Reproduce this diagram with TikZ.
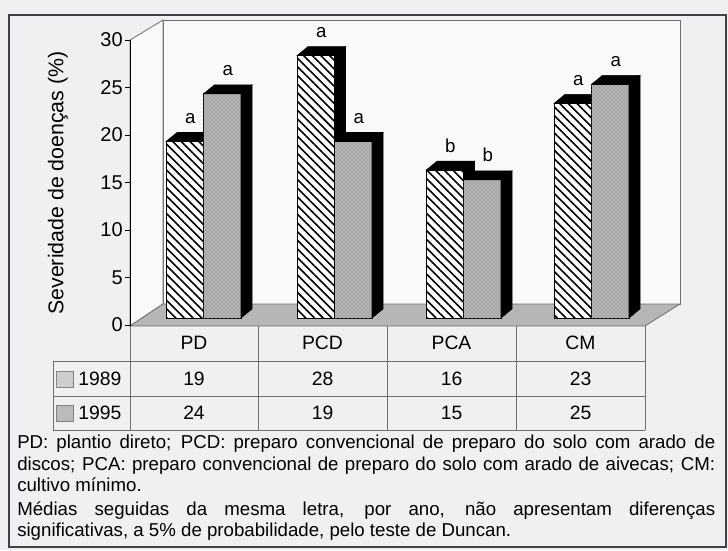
\documentclass[tikz,border=0pt]{standalone}
\usepackage{fontspec}
\setmainfont{Liberation Sans}
\usetikzlibrary{patterns,patterns.meta}

\definecolor{pagebg}{RGB}{241,239,241}
\definecolor{wallbg}{RGB}{249,249,249}
\definecolor{floorgray}{RGB}{182,182,184}
\definecolor{dotgray}{RGB}{166,166,166}
\definecolor{framecol}{RGB}{66,62,76}
\definecolor{linecol}{RGB}{110,110,115}

\tikzset{
  hatchbar/.style={draw=black, line width=0.6, fill=white,
    postaction={pattern={Lines[angle=-45,distance=4.6pt,line width=1.2pt]}}},
  dotbar/.style={draw=black, line width=0.6, fill=dotgray,
    postaction={pattern=crosshatch dots, pattern color=white!80!gray}},
  barshade/.style={fill=black, draw=black, line width=0.4},
  wall/.style={draw=linecol, line width=0.6, fill=wallbg},
  tabline/.style={draw=linecol, line width=0.7},
  letra/.style={anchor=base, inner sep=0.75pt, font=\fontsize{14}{16}\selectfont},
  ticklbl/.style={anchor=east, inner sep=0.75pt, font=\fontsize{15}{17}\selectfont},
  tabtxt/.style={inner sep=0.75pt, font=\fontsize{14.5}{17}\selectfont}
}

\begin{document}
\begin{tikzpicture}[x=0.75pt,y=0.75pt,yscale=-1,xscale=1]
\useasboundingbox (0,0) rectangle (728,550);
\fill [pagebg] (0,0) rectangle (728,550);

%Shape: Rectangle [frame]
\draw [framecol, line width=1.5] (9,15) -- (726,15) -- (726,547) -- (9,547) -- cycle ;

%Shape: Rectangle [back wall]
\draw [wall] (163,20) rectangle (680,304) ;
%Shape: Parallelogram [left wall]
\draw [wall] (130,40) -- (163,20) -- (163,304) -- (130,326) -- cycle ;
%Shape: Parallelogram [floor]
\draw [draw=linecol, line width=0.6, fill=floorgray] (130,326) -- (645,326) -- (680,304) -- (163,304) -- cycle ;

%Straight Lines [axis]
\draw [line width=0.7] (130,40) -- (130,326) ;
\draw [line width=0.7] (125,40) -- (130,40) ;
\draw [line width=0.7] (125,87.5) -- (130,87.5) ;
\draw [line width=0.7] (125,135) -- (130,135) ;
\draw [line width=0.7] (125,182.5) -- (130,182.5) ;
\draw [line width=0.7] (125,230) -- (130,230) ;
\draw [line width=0.7] (125,277.5) -- (130,277.5) ;
\draw [line width=0.7] (125,325) -- (130,325) ;

% Text Node
\draw (124,40) node (y30) [ticklbl] {30};
% Text Node
\draw (124,87.5) node (y25) [ticklbl] {25};
% Text Node
\draw (124,135) node (y20) [ticklbl] {20};
% Text Node
\draw (124,182.5) node (y15) [ticklbl] {15};
% Text Node
\draw (124,230) node (y10) [ticklbl] {10};
% Text Node
\draw (124,277.5) node (y5) [ticklbl] {5};
% Text Node
\draw (124,325) node (y0) [ticklbl] {0};
% Text Node
\draw (58,183) node (eixoy) [rotate=90, inner sep=0.75pt, font=\fontsize{16}{18}\selectfont] {Severidade de doenças (\%)};

%Shape: Bar [PD 1989]
\draw [hatchbar] (166,141.5) rectangle (203.5,318) ;
\draw [barshade] (166,141.5) -- (203.5,141.5) -- (214.5,132.5) -- (177,132.5) -- cycle ;
\draw [barshade] (203.5,141.5) -- (214.5,132.5) -- (214.5,309) -- (203.5,318) -- cycle ;
%Shape: Bar [PD 1995]
\draw [dotbar] (203.5,93.8) rectangle (241,318) ;
\draw [barshade] (203.5,93.8) -- (241,93.8) -- (252,84.8) -- (214.5,84.8) -- cycle ;
\draw [barshade] (241,93.8) -- (252,84.8) -- (252,309) -- (241,318) -- cycle ;

%Shape: Bar [PCD 1989]
\draw [hatchbar] (297,55.6) rectangle (334.5,318) ;
\draw [barshade] (297,55.6) -- (334.5,55.6) -- (345.5,46.6) -- (308,46.6) -- cycle ;
\draw [barshade] (334.5,55.6) -- (345.5,46.6) -- (345.5,309) -- (334.5,318) -- cycle ;
%Shape: Bar [PCD 1995]
\draw [dotbar] (334.5,141.5) rectangle (372,318) ;
\draw [barshade] (334.5,141.5) -- (372,141.5) -- (383,132.5) -- (345.5,132.5) -- cycle ;
\draw [barshade] (372,141.5) -- (383,132.5) -- (383,309) -- (372,318) -- cycle ;

%Shape: Bar [PCA 1989]
\draw [hatchbar] (426,170.2) rectangle (463.5,318) ;
\draw [barshade] (426,170.2) -- (463.5,170.2) -- (474.5,161.2) -- (437,161.2) -- cycle ;
\draw [barshade] (463.5,170.2) -- (474.5,161.2) -- (474.5,309) -- (463.5,318) -- cycle ;
%Shape: Bar [PCA 1995]
\draw [dotbar] (463.5,179.8) rectangle (501,318) ;
\draw [barshade] (463.5,179.8) -- (501,179.8) -- (512,170.8) -- (474.5,170.8) -- cycle ;
\draw [barshade] (501,179.8) -- (512,170.8) -- (512,309) -- (501,318) -- cycle ;

%Shape: Bar [CM 1989]
\draw [hatchbar] (554,103.4) rectangle (591.5,318) ;
\draw [barshade] (554,103.4) -- (591.5,103.4) -- (602.5,94.4) -- (565,94.4) -- cycle ;
\draw [barshade] (591.5,103.4) -- (602.5,94.4) -- (602.5,309) -- (591.5,318) -- cycle ;
%Shape: Bar [CM 1995]
\draw [dotbar] (591.5,84.3) rectangle (629,318) ;
\draw [barshade] (591.5,84.3) -- (629,84.3) -- (640,75.3) -- (602.5,75.3) -- cycle ;
\draw [barshade] (629,84.3) -- (640,75.3) -- (640,309) -- (629,318) -- cycle ;

% Text Node
\draw (190.3,123.5) node (lPDa) [letra] {a};
% Text Node
\draw (227.8,75.8) node (lPDb) [letra] {a};
% Text Node
\draw (321.3,37.6) node (lPCDa) [letra] {a};
% Text Node
\draw (358.8,123.5) node (lPCDb) [letra] {a};
% Text Node
\draw (450.3,152.2) node (lPCAa) [letra] {b};
% Text Node
\draw (487.8,161.8) node (lPCAb) [letra] {b};
% Text Node
\draw (578.3,85.4) node (lCMa) [letra] {a};
% Text Node
\draw (615.8,66.3) node (lCMb) [letra] {a};

%Straight Lines [table]
\draw [tabline] (53,361) -- (645,361) ;
\draw [tabline] (53,396) -- (645,396) ;
\draw [tabline] (53,430) -- (645,430) ;
\draw [tabline] (53,361) -- (53,430) ;
\draw [tabline] (130,326) -- (130,430) ;
\draw [tabline] (258,326) -- (258,430) ;
\draw [tabline] (387,326) -- (387,430) ;
\draw [tabline] (516,326) -- (516,430) ;
\draw [tabline] (645,326) -- (645,430) ;

%Shape: Square [legend 1989]
\draw [draw=gray, fill=gray!35, postaction={pattern=crosshatch dots, pattern color=gray!60}] (56,371) rectangle (73,387) ;
%Shape: Square [legend 1995]
\draw [draw=gray, fill=gray!50, postaction={pattern=crosshatch dots, pattern color=gray!80}] (56,405) rectangle (73,421) ;

% Text Node
\draw (194,343) node (cPD) [tabtxt] {PD};
% Text Node
\draw (322.5,343) node (cPCD) [tabtxt] {PCD};
% Text Node
\draw (451.5,343) node (cPCA) [tabtxt] {PCA};
% Text Node
\draw (580.5,343) node (cCM) [tabtxt] {CM};
% Text Node
\draw (77,378.5) node (ano1989) [tabtxt, anchor=west] {1989};
% Text Node
\draw (77,413) node (ano1995) [tabtxt, anchor=west] {1995};
% Text Node
\draw (194,378.5) node (v1) [tabtxt] {19};
% Text Node
\draw (322.5,378.5) node (v2) [tabtxt] {28};
% Text Node
\draw (451.5,378.5) node (v3) [tabtxt] {16};
% Text Node
\draw (580.5,378.5) node (v4) [tabtxt] {23};
% Text Node
\draw (194,413) node (v5) [tabtxt] {24};
% Text Node
\draw (322.5,413) node (v6) [tabtxt] {19};
% Text Node
\draw (451.5,413) node (v7) [tabtxt] {15};
% Text Node
\draw (580.5,413) node (v8) [tabtxt] {25};

% Text Node
\draw (17,435) node (nota1) [anchor=north west, inner sep=0pt, text width=523.5pt, align=justify, font=\fontsize{14}{16.2}\selectfont] {PD: plantio direto; PCD: preparo convencional de preparo do solo com arado de\linebreak discos; PCA: preparo convencional de preparo do solo com arado de aivecas; CM:\linebreak cultivo mínimo.};
% Text Node
\draw (17,501) node (nota2) [anchor=north west, inner sep=0pt, text width=523.5pt, align=justify, font=\fontsize{14}{16.2}\selectfont] {Médias seguidas da mesma letra, por ano, não apresentam diferenças\linebreak significativas, a 5\% de probabilidade, pelo teste de Duncan.};
\end{tikzpicture}
\end{document}
